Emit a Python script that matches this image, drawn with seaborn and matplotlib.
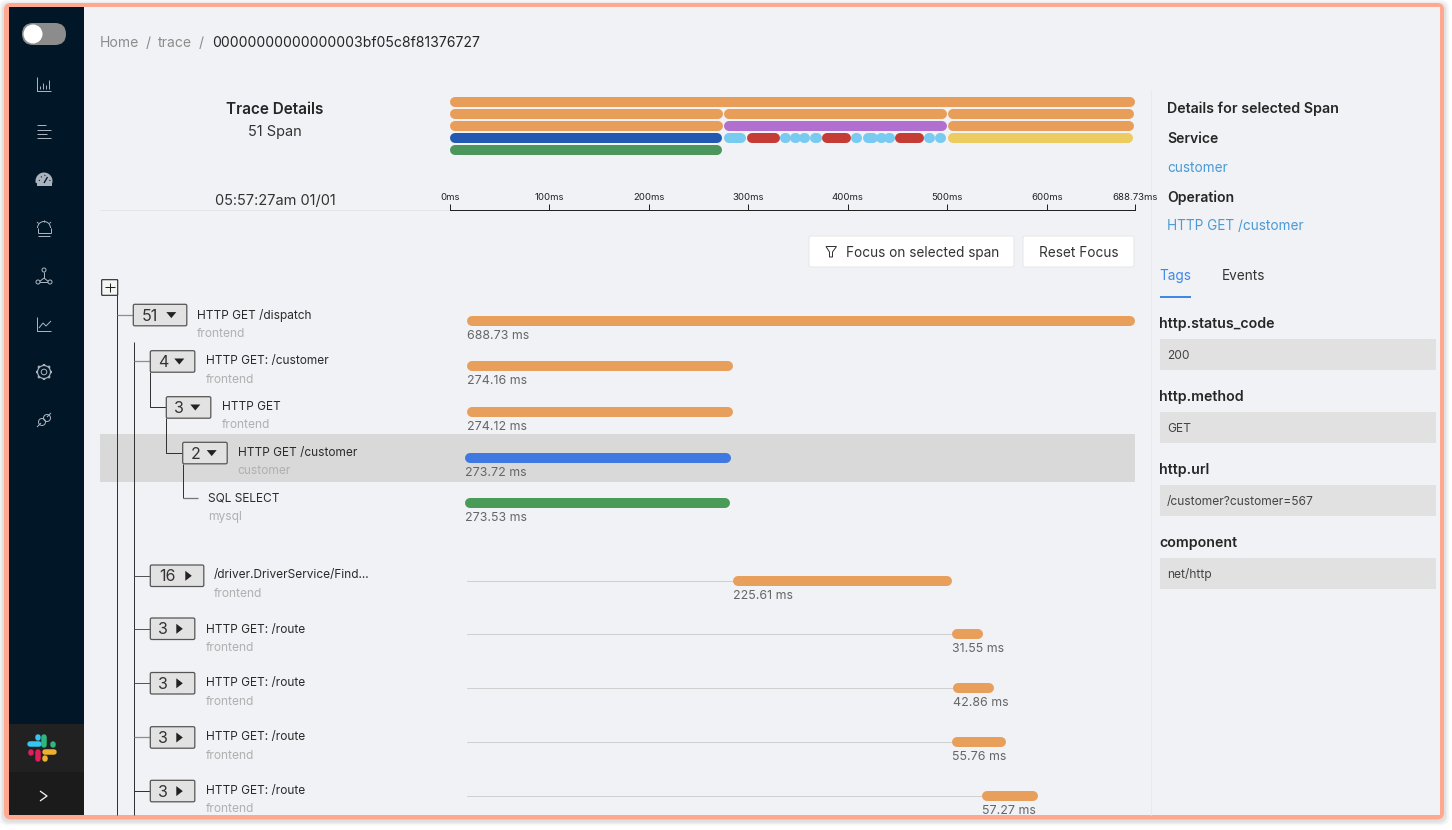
import numpy as np
import pandas as pd
import matplotlib
matplotlib.use("Agg")
import matplotlib.pyplot as plt
import seaborn as sns
from matplotlib.patches import Rectangle, FancyBboxPatch, Circle, Wedge, Arc, Polygon

# minimap spans: service, row, start ms, end ms
mini_service = ['frontend', 'frontend', 'frontend', 'frontend', 'frontend', 'driver', 'frontend',
                'customer', 'redis', 'redis_err', 'redis', 'redis', 'redis', 'redis', 'redis_err',
                'redis', 'redis', 'redis', 'redis', 'redis_err', 'redis', 'redis', 'route', 'mysql']
mini_row = [0, 1, 1, 1, 2, 2, 2, 3, 3, 3, 3, 3, 3, 3, 3, 3, 3, 3, 3, 3, 3, 3, 3, 4]
mini_start = [0, 0, 275, 501, 0, 275, 501, 0, 275, 299, 332, 345, 351, 363, 374,
              404, 415, 431, 437, 447, 477, 488, 501, 0]
mini_end = [688.73, 274.16, 500, 687.5, 274.12, 500, 687.5, 273.72, 298, 332, 342, 350, 362, 373, 403,
            414, 430, 437, 447, 477, 488, 499, 686.5, 273.53]

axis_ticks = [0, 100, 200, 300, 400, 500, 600, 688.73]
axis_labels = ['0ms', '100ms', '200ms', '300ms', '400ms', '500ms', '600ms', '688.73ms']

# span tree rows
span_name = ['HTTP GET /dispatch', 'HTTP GET: /customer', 'HTTP GET', 'HTTP GET /customer', 'SQL SELECT',
             '/driver.DriverService/Find...', 'HTTP GET: /route', 'HTTP GET: /route', 'HTTP GET: /route',
             'HTTP GET: /route']
span_service = ['frontend', 'frontend', 'frontend', 'customer', 'mysql',
                'frontend', 'frontend', 'frontend', 'frontend', 'frontend']
span_start = [0, 0, 0, -2, -2.5, 274, 500, 501, 500, 531]
span_ms = [688.73, 274.16, 274.12, 273.72, 273.53, 225.61, 31.55, 42.86, 55.76, 57.27]
span_children = [51, 4, 3, 2, None, 16, 3, 3, 3, 3]

tag_keys = ['http.status_code', 'http.method', 'http.url', 'component']
tag_values = ['200', 'GET', '/customer?customer=567', 'net/http']

mini_palette = {'frontend': '#e89d58', 'driver': '#b170d0', 'customer': '#2459b2', 'redis': '#78caf0',
                'redis_err': '#c53c36', 'route': '#eccb60', 'mysql': '#4b965c'}
tree_palette = {'frontend': '#e89f5c', 'customer': '#3f78e0', 'mysql': '#4a9a58'}

# layout, in picture pixels
row_bar_y = [321, 366, 412, 458, 503, 581, 634, 688, 742, 796]
row_text_y = [314, 360, 405.5, 451.5, 497, 574, 628.5, 682, 736, 789.5]
row_text_x = [197.2, 205.5, 221.5, 237.5, 208.2, 214, 205.7, 205.7, 205.7, 205.7]
box_left = [133.3, 150.3, 166.3, 182.7, None, 150.3, 150.3, 150.3, 150.3, 150.3]
box_top = [304.3, 350.7, 396.7, 442.3, None, 565, 618, 672.5, 726.7, 780.3]
tag_y = [323, 396, 469, 542]

W, H = 1452, 830
MINI_PX = (1135 - 450) / 688.73
TREE_PX = (1135 - 467) / 688.73

sns.set_theme(style="white")
plt.rcParams['font.family'] = ['Inter', 'DejaVu Sans']

fig = plt.figure(figsize=(W / 100, H / 100), dpi=100, facecolor='white')


def axes_px(x0, y0, x1, y1, zorder):
    a = fig.add_axes([x0 / W, 1 - y1 / H, (x1 - x0) / W, (y1 - y0) / H], zorder=zorder)
    a.patch.set_alpha(0)
    return a


def lw(px):
    return px * 0.72


def fs(px):
    return px * 0.72


# whole picture canvas for the interface around the chart
canvas = axes_px(0, 0, W, H, 0)
canvas.set_xlim(0, W)
canvas.set_ylim(H, 0)
canvas.axis('off')


def rect(x0, y0, x1, y1, color, z=1, **kw):
    canvas.add_patch(Rectangle((x0, y0), x1 - x0, y1 - y0, facecolor=color, edgecolor='none', zorder=z, **kw))


def rrect(x0, y0, x1, y1, r, face, edge='none', width=0, z=1):
    canvas.add_patch(FancyBboxPatch((x0 + r, y0 + r), x1 - x0 - 2 * r, y1 - y0 - 2 * r,
                                    boxstyle=f"round,pad={r},rounding_size={r}", facecolor=face,
                                    edgecolor=edge, linewidth=width, zorder=z))


def line(xs, ys, color='#444444', width=1, z=3, **kw):
    canvas.plot(xs, ys, color=color, lw=lw(width), zorder=z, solid_capstyle=kw.pop('cap', 'butt'), **kw)


def label(x, y, s, size=14, color='#2b2b2b', ha='left', weight='normal', z=5):
    # +1 keeps the text on the same baseline as the reference rows
    canvas.text(x, y + 1, s, fontsize=fs(size), color=color, ha=ha, va='center', fontweight=weight, zorder=z)


# frame and soft shadow
for grow, alpha in [(5, 0.03), (3.5, 0.04), (2, 0.05)]:
    rrect(4 - grow, 3 - grow + 2, 1444 + grow, 819.5 + grow + 1, 8, (0, 0, 0, alpha), z=0.2)
rrect(4, 3, 1444, 819.5, 7, '#ffa78f', z=0.5)
rect(9, 7.3, 1439.5, 815, '#f0f2f5', z=0.6)

# sidebar
rect(9, 7.3, 84, 815, '#011627', z=0.8)
rect(9, 724, 84, 772, '#212121', z=0.9)
rect(9, 772, 84, 815, '#1b1b1b', z=0.9)

# toggle
rrect(22, 23, 66, 45, 11, '#8c8c8c', z=2)
canvas.add_patch(Circle((33, 34), 9.5, facecolor='white', edgecolor='none', zorder=3))

# sidebar icons
ic = '#aab3bd'
line([37, 37, 51], [77, 91, 91], ic)
for bx, by in zip([40, 43, 46, 49], [86, 83, 85, 80]):
    line([bx, bx], [by, 89], ic)
for ly, lx in zip([125, 130, 134, 138], [46, 51, 47, 51]):
    line([37, lx], [ly, ly], ic)
canvas.add_patch(Wedge((44, 181), 8.5, 165, 375, facecolor=ic, edgecolor='none', zorder=3))
canvas.add_patch(Rectangle((36.5, 181), 15, 5.5, facecolor=ic, edgecolor='none', zorder=3))
line([44, 47.5], [183, 177], '#011627', 1.3, z=4)
for tx, ty in [(39, 180), (41, 176.5), (44.5, 175), (49.5, 180)]:
    line([tx, tx + 0.8], [ty, ty + 0.8], '#011627', 1, z=4)
canvas.add_patch(Arc((44, 228), 13, 13, theta1=180, theta2=360, color=ic, lw=lw(1), zorder=3))
line([37.5, 37.5], [228, 233], ic)
line([50.5, 50.5], [228, 233], ic)
line([37.5, 50.5], [233, 233], ic)
line([38, 50], [236, 236], ic)
line([44, 44], [220, 222], ic)
line([37, 38.5], [222, 223.5], ic)
line([51, 49.5], [222, 223.5], ic)
line([44, 44], [272, 278], ic)
line([39, 49], [282, 282], ic, z=2)
line([44, 39], [278, 282], ic)
line([44, 49], [278, 282], ic)
for cx, cy in [(44, 270), (38, 282), (50, 282)]:
    canvas.add_patch(Circle((cx, cy), 2, facecolor='#011627', edgecolor=ic, lw=lw(1), zorder=3))
line([37, 37, 51], [317, 331, 331], ic)
line([39, 43, 46, 51], [328, 323, 326, 321], ic)
canvas.add_patch(Circle((44, 372), 6.5, facecolor='none', edgecolor=ic, lw=lw(1.2), zorder=3))
canvas.add_patch(Circle((44, 372), 2.8, facecolor='none', edgecolor=ic, lw=lw(1), zorder=3))
for ang in np.arange(0, 360, 45):
    ca, sa = np.cos(np.radians(ang)), np.sin(np.radians(ang))
    line([44 + 6.5 * ca, 44 + 8.3 * ca], [372 + 6.5 * sa, 372 + 8.3 * sa], ic, 2.4)
line([37, 41], [427, 423], ic)
line([47, 51], [417, 413], ic)
for cx, cy in [(42, 422), (47, 418)]:
    canvas.add_patch(Circle((cx, cy), 3.5, facecolor='none', edgecolor=ic, lw=lw(1), zorder=3))

# slack logo
for xs, ys, col in [([30, 39], [744, 744], '#36c5f0'), ([38, 38], [737, 738], '#36c5f0'),
                    ([44, 44], [737, 745], '#2eb67d'), ([53, 53], [744, 745], '#2eb67d'),
                    ([45, 54], [752, 752], '#ecb22e'), ([45, 45], [758, 759], '#ecb22e'),
                    ([38, 38], [752, 759], '#e01e5a'), ([31, 31], [752, 753], '#e01e5a')]:
    line(xs, ys, col, 5.5, cap='round')
line([40, 47, 40], [791, 796, 801], '#f2f2f2', 1.3)

# breadcrumb
label(100, 42, 'Home', 14, '#8c8c8c')
label(146, 42, '/', 14, '#8c8c8c')
label(158, 42, 'trace', 14, '#8c8c8c')
label(199, 42, '/', 14, '#8c8c8c')
label(212, 42, '00000000000000003bf05c8f81376727', 14, '#262626')

# header
label(275, 109, 'Trace Details', 15.3, '#262626', 'center', 'semibold')
label(275, 131, '51 Span', 14.5, '#333333', 'center')
label(275, 199.5, '05:57:27am 01/01', 14.6, '#333333', 'center')
line([100, 1135], [210.5, 210.5], '#e3e4e8')
line([1151, 1151], [90, 815], '#e8e9ed')

# buttons
rrect(809, 236, 1014, 267, 2, 'white', '#e6e6e6', 0.7)
rrect(1023, 236, 1134, 267, 2, 'white', '#e6e6e6', 0.7)
label(846, 251.5, 'Focus on selected span', 13.6, '#333333')
label(1039, 251.5, 'Reset Focus', 13.6, '#333333')
canvas.add_patch(Polygon([[826, 246.5], [836.5, 246.5], [832.5, 252], [832.5, 257], [829.5, 257], [829.5, 252]],
                         closed=True, facecolor='none', edgecolor='#333333', lw=lw(1), zorder=4))

# selected row band
rect(100, 434, 1135, 482, '#d9d9d9', z=1)

# tree skeleton
line([116.7, 116.7], [295, 815], '#333333')
line([133.7, 133.7], [342, 815], '#333333')
rrect(101.7, 279.7, 117.7, 295.3, 0.5, '#f5f5f5', '#222222', 1.1 * 0.72, z=4)
line([105, 114.5], [287.5, 287.5], '#222222', z=5)
line([109.7, 109.7], [283, 292.5], '#222222', z=5)
line([116.7, 133.3], [315, 315], '#8f8f8f', 1.3)
line([133.7, 150.3], [361, 361], '#8f8f8f', 1.3)
line([150.3, 150.3, 166.3], [372, 407, 407], '#333333')
line([166.3, 166.3, 182.7], [418, 452.5, 452.5], '#333333')
line([182.7, 182.7], [464, 498.3], '#333333')
line([182.7, 197.7], [498.3, 498.3], '#777777', 1.3)
line([133.7, 150.3], [576, 576], '#555555')
line([133.7, 150.3], [629, 629], '#555555')
line([133.7, 150.3], [683, 683], '#555555')
line([133.7, 150.3], [737, 737], '#8f8f8f', 1.3)
line([133.7, 150.3], [791, 791], '#333333')

for i, n in enumerate(span_children):
    if n is None:
        continue
    bw = 53.5 if n >= 10 else 44.5
    x0, y0 = box_left[i], box_top[i]
    rrect(x0, y0, x0 + bw, y0 + 21.5, 1.5, '#e2e2e2', '#555555', 0.9, z=4)
    cy = y0 + 10.8
    label(x0 + (17 if n >= 10 else 13), cy, str(n), 16, '#333333', 'center')
    tx = x0 + (38 if n >= 10 else 29)
    if i < 4:
        pts = [[tx - 5, cy - 3], [tx + 5, cy - 3], [tx, cy + 3]]
    else:
        pts = [[tx - 3, cy - 5], [tx - 3, cy + 5], [tx + 3.5, cy]]
    canvas.add_patch(Polygon(pts, closed=True, facecolor='#222222', edgecolor='none', zorder=5))

for name, svc, tx, ty in zip(span_name, span_service, row_text_x, row_text_y):
    label(tx, ty, name, 11.9, '#2b2b2b')
    label(tx, ty + 18.7, svc, 12, '#b0b0b0')

# right panel
label(1167, 108, 'Details for selected Span', 14.25, '#262626', weight='semibold')
label(1167, 138, 'Service', 14, '#262626', weight='semibold')
label(1167, 167, 'customer', 13.6, '#4a9ad6')
label(1167, 197, 'Operation', 14, '#262626', weight='semibold')
label(1167, 225, 'HTTP GET /customer', 13.6, '#4a9ad6')
label(1159.2, 275, 'Tags', 13.6, '#3f88e8')
label(1221.5, 275, 'Events', 13.6, '#333333')
rect(1159.5, 296, 1190.5, 298, '#3f88e8', z=2)
for key, val, ky in zip(tag_keys, tag_values, tag_y):
    label(1159.2, ky, key, 14.2, '#262626', weight='semibold')
    rect(1159.5, ky + 16, 1436, ky + 47, '#e1e1e1', z=1)
    label(1167, ky + 31.5, val, 12, '#444444')


def span_frame(service, row, start, end, radius_ms):
    # round caps stick out past the ends, so pull the line ends in by the cap radius
    rows = []
    for i, (svc, r, s, e) in enumerate(zip(service, row, start, end)):
        mid = (s + e) / 2
        x0 = min(s + radius_ms, mid - 0.6)
        x1 = max(e - radius_ms, mid + 0.6)
        rows.append({'span': i, 'service': svc, 'row': r, 'ms': x0})
        rows.append({'span': i, 'service': svc, 'row': r, 'ms': x1})
    return pd.DataFrame(rows)


# minimap timeline
mini = axes_px(450, 96, 1135, 210, 2)
mini_df = span_frame(mini_service, mini_row, mini_start, mini_end, 5 / MINI_PX)
sns.lineplot(data=mini_df, x='ms', y='row', hue='service', palette=mini_palette, units='span',
             estimator=None, sort=False, legend=False, lw=lw(10), solid_capstyle='round',
             clip_on=False, ax=mini)
mini.set_xlim(0, 688.73)
mini.set_ylim(9, -0.5)
mini.set_xticks(axis_ticks)
mini.set_xticklabels(axis_labels, fontsize=fs(9.6), color='#222222')
mini.set_yticks([])
mini.set_xlabel('')
mini.set_ylabel('')
sns.despine(ax=mini, left=True, top=True, right=True)
mini.spines['bottom'].set_color('#222222')
mini.spines['bottom'].set_linewidth(lw(1))
mini.tick_params(axis='x', direction='in', length=4, width=lw(1), color='#222222', pad=-12, bottom=True)

# span bars share one ms scale
tree_x0, tree_x1 = 455, 1140
tree = axes_px(tree_x0, 300, tree_x1, 815, 2)
tree_df = span_frame(span_service, row_bar_y, span_start,
                     [s + d for s, d in zip(span_start, span_ms)], 5 / TREE_PX)
sns.lineplot(data=tree_df, x='ms', y='row', hue='service', palette=tree_palette, units='span',
             estimator=None, sort=False, legend=False, lw=lw(10), solid_capstyle='round', ax=tree)
for s, by, d in zip(span_start, row_bar_y, span_ms):
    if s > 0:
        tree.plot([0, s], [by, by], color='#cfcfcf', lw=lw(1), zorder=1)
    tree.text(s, by + 15, f'{d:.2f} ms', fontsize=fs(12.4), color='#666666', va='center', ha='left')
tree.set_xlim((tree_x0 - 467) / TREE_PX, (tree_x1 - 467) / TREE_PX)
tree.set_ylim(815, 300)
tree.axis('off')

fig.savefig('out.png', dpi=100)
